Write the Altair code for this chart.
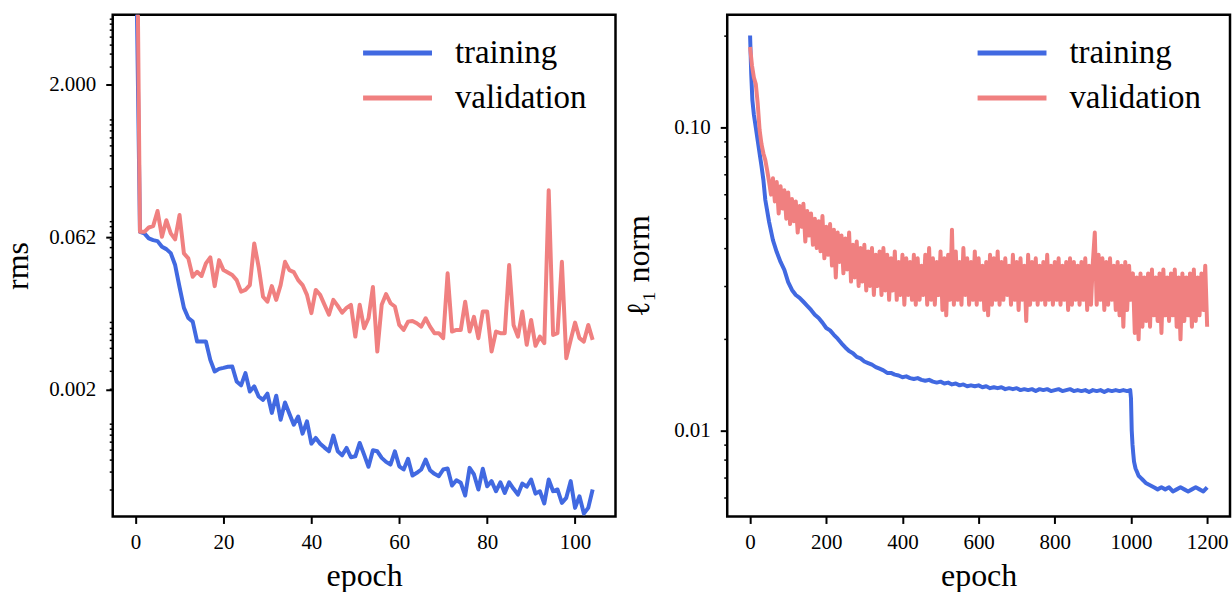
import altair as alt
import pandas as pd

FONT = "Liberation Serif"
BLUE = "#4169E1"
RED = "#F08080"
SERIES = ["training", "validation"]

# ---------------- left panel (rms, 105 epochs) ----------------
left_epochs = list(range(0, 105))
left_train = [
    100.0, 0.0704, 0.0679, 0.0606, 0.0583, 0.0570, 0.0501, 0.0475, 0.0434, 0.0331,
    0.0201, 0.0125, 0.00995, 0.00915, 0.00582, 0.00582, 0.00582, 0.00384, 0.00295, 0.00313,
    0.00320, 0.00328, 0.00330, 0.00235, 0.00215, 0.00284, 0.00187, 0.00210, 0.00167, 0.00155,
    0.00178, 0.00115, 0.00170, 0.000986, 0.00146, 0.00113, 0.000880, 0.00106, 0.000718, 0.000949,
    0.000572, 0.000651, 0.000572, 0.000523, 0.000481, 0.000686, 0.000481, 0.000439, 0.000519, 0.000420,
    0.000429, 0.000581, 0.000446, 0.000338, 0.000492, 0.000481, 0.000414, 0.000378, 0.000356, 0.000481,
    0.000342, 0.000318, 0.000405, 0.000277, 0.000295, 0.000318, 0.000398, 0.000313, 0.000288, 0.000273,
    0.000318, 0.000325, 0.000221, 0.000249, 0.000235, 0.000176, 0.000330, 0.000284, 0.000202, 0.000323,
    0.000217, 0.000244, 0.000194, 0.000238, 0.000187, 0.000238, 0.000205, 0.000180, 0.000231, 0.000215,
    0.000253, 0.000184, 0.000194, 0.000147, 0.000253, 0.000194, 0.000202, 0.000149, 0.000167, 0.000244,
    0.000133, 0.000173, 0.000117, 0.000133, 0.000202,
]
left_valid = [
    3000.0, 0.0704, 0.0704, 0.0777, 0.0801, 0.113, 0.0628, 0.0917, 0.0679, 0.0592,
    0.103, 0.0431, 0.0385, 0.0254, 0.0284, 0.0258, 0.0344, 0.0394, 0.0205, 0.0370,
    0.0295, 0.0279, 0.0264, 0.0235, 0.0181, 0.0188, 0.0210, 0.0541, 0.0318, 0.0161,
    0.0144, 0.0205, 0.0150, 0.0210, 0.0356, 0.0295, 0.0282, 0.0235, 0.0210, 0.0168,
    0.0111, 0.0188, 0.0168, 0.0134, 0.0107, 0.0150, 0.0131, 0.0112, 0.0125, 0.0134,
    0.00651, 0.0134, 0.00788, 0.00988, 0.0201, 0.00464, 0.0134, 0.0171, 0.0139, 0.0129,
    0.00849, 0.00758, 0.00915, 0.00930, 0.00882, 0.00817, 0.00988, 0.00817, 0.00704, 0.00704,
    0.00628, 0.0274, 0.00730, 0.00758, 0.00758, 0.0144, 0.00730, 0.0102, 0.00628, 0.0115,
    0.0115, 0.00464, 0.00730, 0.00704, 0.00704, 0.0331, 0.00849, 0.00651, 0.0115, 0.00540,
    0.00951, 0.00528, 0.00651, 0.00561, 0.181, 0.00677, 0.00704, 0.0356, 0.00399, 0.00604,
    0.00895, 0.00628, 0.00582, 0.00849, 0.00604,
]

# ---------------- right panel (l1 norm, 1200 epochs) ----------------
right_train_epochs = [
    0, 3, 6, 10, 15, 20, 25, 30, 35, 40, 50, 60, 70, 80, 90, 100, 110, 120, 130, 140,
    150, 160, 170, 180, 190,
    200, 210, 220, 230, 240, 250, 260, 270, 280, 290,
    300, 310, 320, 330, 340, 350, 360, 370, 380, 390,
    400, 410, 420, 430, 440, 450, 460, 470, 480, 490,
    500, 510, 520, 530, 540, 550, 560, 570, 580, 590,
    600, 610, 620, 630, 640, 650, 660, 670, 680, 690,
    700, 710, 720, 730, 740, 750, 760, 770, 780, 790,
    800, 810, 820, 830, 840, 850, 860, 870, 880, 890,
    900, 910, 920, 930, 940, 950, 960, 970, 980, 990,
    998, 1000, 1002, 1004, 1006, 1008, 1012, 1016, 1020, 1025, 1030, 1040, 1050, 1060,
    1070, 1080, 1090, 1100, 1110, 1120, 1130, 1140, 1150, 1160, 1170, 1180, 1190, 1200,
]
right_train = [
    0.201, 0.150, 0.123, 0.110, 0.100, 0.0906, 0.0821, 0.0745, 0.0670, 0.0576,
    0.0487, 0.0425, 0.0388, 0.0360, 0.0339, 0.0309, 0.0291, 0.0280, 0.0274, 0.0266,
    0.0258, 0.0250, 0.0241, 0.0235, 0.0227,
    0.0218, 0.0214, 0.0207, 0.0201, 0.0194, 0.0188, 0.0183, 0.0180, 0.0175, 0.0173,
    0.0169, 0.0167, 0.0165, 0.0162, 0.0160, 0.0158, 0.0155, 0.0155, 0.0153, 0.0152,
    0.0150, 0.0151, 0.0149, 0.0148, 0.0149, 0.0147, 0.0146, 0.0147, 0.0145, 0.0144,
    0.0145, 0.0143, 0.0144, 0.0142, 0.0143, 0.0141, 0.0142, 0.0140, 0.0141, 0.0140,
    0.0141, 0.0139, 0.0140, 0.0138, 0.0139, 0.0138, 0.0139, 0.0137, 0.0138, 0.0137,
    0.0138, 0.0136, 0.0137, 0.0136, 0.0137, 0.0135, 0.0137, 0.0136, 0.0137, 0.0135,
    0.0136, 0.0137, 0.0135, 0.0136, 0.0137, 0.0135, 0.0136, 0.0135, 0.0136, 0.0134,
    0.0136, 0.0135, 0.0136, 0.0134, 0.0136, 0.0135, 0.0136, 0.0135, 0.0136, 0.0135,
    0.0136, 0.0128, 0.0100, 0.0090, 0.0084, 0.0079, 0.0075, 0.0073, 0.0071, 0.0070,
    0.0069, 0.0067, 0.0066, 0.0065,
    0.0064, 0.0065, 0.0064, 0.0065, 0.0063, 0.0064, 0.0065, 0.0064, 0.0063, 0.0064,
    0.0065, 0.0064, 0.0063, 0.0065,
]
right_valid_epochs = list(range(0, 1205, 5))
right_valid = [
    0.184, 0.160, 0.146, 0.139, 0.120, 0.098, 0.088, 0.082, 0.078, 0.072, 0.066, 0.060, 0.068, 0.057, 0.066, 0.052, 0.064, 0.054, 0.062, 0.050,
    0.061, 0.048, 0.058, 0.049, 0.057, 0.045, 0.055, 0.047, 0.056, 0.042, 0.053, 0.044, 0.052, 0.041, 0.050, 0.040, 0.049, 0.039, 0.051, 0.037,
    0.047, 0.038, 0.048, 0.035, 0.046, 0.032, 0.045, 0.036, 0.044, 0.033, 0.043, 0.034, 0.045, 0.031, 0.041, 0.032, 0.042, 0.030, 0.040, 0.031,
    0.041, 0.029, 0.039, 0.030, 0.040, 0.028, 0.038, 0.030, 0.039, 0.028, 0.040, 0.029, 0.038, 0.027, 0.037, 0.029, 0.039, 0.027, 0.036, 0.028,
    0.038, 0.026, 0.037, 0.028, 0.036, 0.027, 0.038, 0.026, 0.037, 0.027, 0.035, 0.028, 0.038, 0.026, 0.040, 0.027, 0.037, 0.026, 0.036, 0.028,
    0.039, 0.025, 0.037, 0.024, 0.038, 0.027, 0.046, 0.026, 0.039, 0.027, 0.036, 0.026, 0.040, 0.028, 0.037, 0.026, 0.036, 0.027, 0.039, 0.026,
    0.037, 0.027, 0.035, 0.025, 0.036, 0.024, 0.038, 0.026, 0.037, 0.027, 0.039, 0.026, 0.036, 0.027, 0.037, 0.028, 0.035, 0.026, 0.038, 0.027,
    0.036, 0.025, 0.037, 0.027, 0.035, 0.023, 0.038, 0.026, 0.036, 0.027, 0.037, 0.026, 0.035, 0.027, 0.036, 0.026, 0.038, 0.027, 0.035, 0.026,
    0.036, 0.027, 0.037, 0.026, 0.035, 0.027, 0.036, 0.025, 0.037, 0.026, 0.036, 0.027, 0.035, 0.026, 0.036, 0.027, 0.037, 0.025, 0.035, 0.026,
    0.036, 0.045, 0.026, 0.038, 0.027, 0.037, 0.025, 0.036, 0.026, 0.037, 0.027, 0.035, 0.025, 0.036, 0.024, 0.035, 0.022, 0.036, 0.025, 0.035,
    0.027, 0.033, 0.021, 0.032, 0.020, 0.033, 0.022, 0.032, 0.023, 0.033, 0.022, 0.034, 0.024, 0.032, 0.023, 0.033, 0.021, 0.034, 0.024, 0.032,
    0.023, 0.033, 0.024, 0.034, 0.022, 0.032, 0.020, 0.033, 0.023, 0.032, 0.024, 0.033, 0.022, 0.034, 0.023, 0.032, 0.024, 0.033, 0.025, 0.035,
    0.022,
]

left_df = pd.concat([
    pd.DataFrame({"epoch": left_epochs, "value": left_train, "series": "training"}),
    pd.DataFrame({"epoch": left_epochs, "value": left_valid, "series": "validation"}),
])
right_df = pd.concat([
    pd.DataFrame({"epoch": right_train_epochs, "value": right_train, "series": "training"}),
    pd.DataFrame({"epoch": right_valid_epochs, "value": right_valid, "series": "validation"}),
])

# tick values (major labelled, minor unlabelled)
left_major = [2.0, 0.0625, 0.001953125]
left_minor = [k * 10.0 ** e for e in range(-4, 1) for k in range(2, 10)]
left_minor = [v for v in left_minor if 1.1e-4 < v < 9.7]
right_major = [0.1, 0.01]
right_minor = [k * 10.0 ** e for e in range(-3, 0) for k in range(2, 10)]
right_minor = [v for v in right_minor if 0.0053 < v < 0.23]


def cond(test, major, minor):
    return {"condition": {"test": test, "value": major}, "value": minor}


left_test = "datum.value == 2 || datum.value == 0.0625 || datum.value == 0.001953125"
right_test = "datum.value == 0.1 || datum.value == 0.01"

W, H = 504, 503


def make_legend():
    return alt.Legend(
        title=None,
        orient="none",
        legendX=269,
        legendY=22,
        padding=0,
        labelFont=FONT,
        labelFontSize=33,
        labelColor="black",
        symbolType="M-3,0H3",
        symbolSize=530,
        symbolStrokeWidth=5,
        labelOffset=41,
        rowPadding=11,
    )


def make_color():
    return alt.Color(
        "series:N",
        scale=alt.Scale(domain=SERIES, range=[BLUE, RED]),
        legend=make_legend(),
    )


xaxis_common = dict(
    title="epoch",
    titleFont=FONT,
    titleFontSize=32,
    titleFontWeight="normal",
    titlePadding=8,
    labelFont=FONT,
    labelFontSize=21,
    labelPadding=8,
    tickSize=7,
    tickWidth=2,
    grid=False,
    domain=False,
    labelFlush=False,
    format="d",
)

left = alt.Chart(left_df).mark_line(clip=True, strokeWidth=4, strokeJoin="round").encode(
    x=alt.X(
        "epoch:Q",
        scale=alt.Scale(domain=[-5.2, 109.2], nice=False, zero=False),
        axis=alt.Axis(values=[0, 20, 40, 60, 80, 100], **xaxis_common),
    ),
    y=alt.Y(
        "value:Q",
        scale=alt.Scale(type="log", domain=[1.094e-4, 9.77], nice=False),
        axis=alt.Axis(
            title="rms",
            titleFont=FONT,
            titleFontSize=32,
            titleFontWeight="normal",
            titlePadding=14,
            values=left_major + left_minor,
            labelExpr="datum.value == 2 ? '2.000' : datum.value == 0.0625 ? '0.062' : datum.value == 0.001953125 ? '0.002' : ''",
            labelFont=FONT,
            labelFontSize=21,
            labelPadding=10,
            labelOverlap=False,
            labelFlush=False,
            tickSize=cond(left_test, 7, 3.5),
            tickWidth=cond(left_test, 2, 1.5),
            grid=False,
            domain=False,
        ),
    ),
    color=make_color(),
    order=alt.Order("epoch:Q"),
).properties(width=W, height=H)

right = alt.Chart(right_df).mark_line(clip=True, strokeWidth=4, strokeJoin="round").encode(
    x=alt.X(
        "epoch:Q",
        scale=alt.Scale(domain=[-60, 1260], nice=False, zero=False),
        axis=alt.Axis(values=[0, 200, 400, 600, 800, 1000, 1200], **xaxis_common),
    ),
    y=alt.Y(
        "value:Q",
        scale=alt.Scale(type="log", domain=[0.00521, 0.2353], nice=False),
        axis=alt.Axis(
            title="ℓ₁ norm",
            titleFont=FONT,
            titleFontSize=32,
            titleFontWeight="normal",
            titlePadding=18,
            values=right_major + right_minor,
            labelExpr="datum.value == 0.1 ? '0.10' : datum.value == 0.01 ? '0.01' : ''",
            labelFont=FONT,
            labelFontSize=21,
            labelPadding=10,
            labelOverlap=False,
            labelFlush=False,
            tickSize=cond(right_test, 7, 3.5),
            tickWidth=cond(right_test, 2, 1.5),
            grid=False,
            domain=False,
        ),
    ),
    color=make_color(),
    order=alt.Order("epoch:Q"),
).properties(width=W, height=H)

chart = (
    alt.hconcat(left, right, spacing=4)
    .resolve_scale(color="independent", x="independent", y="independent")
    .resolve_legend(color="independent")
    .properties(padding={"left": 0, "top": 5, "right": 0, "bottom": 0}, background="white")
    .configure_view(stroke="black", strokeWidth=2.5)
    .configure_axis(tickColor="black", labelColor="black", titleColor="black")
)

chart.save("out.html", embed_options={"renderer": "svg", "actions": False})
